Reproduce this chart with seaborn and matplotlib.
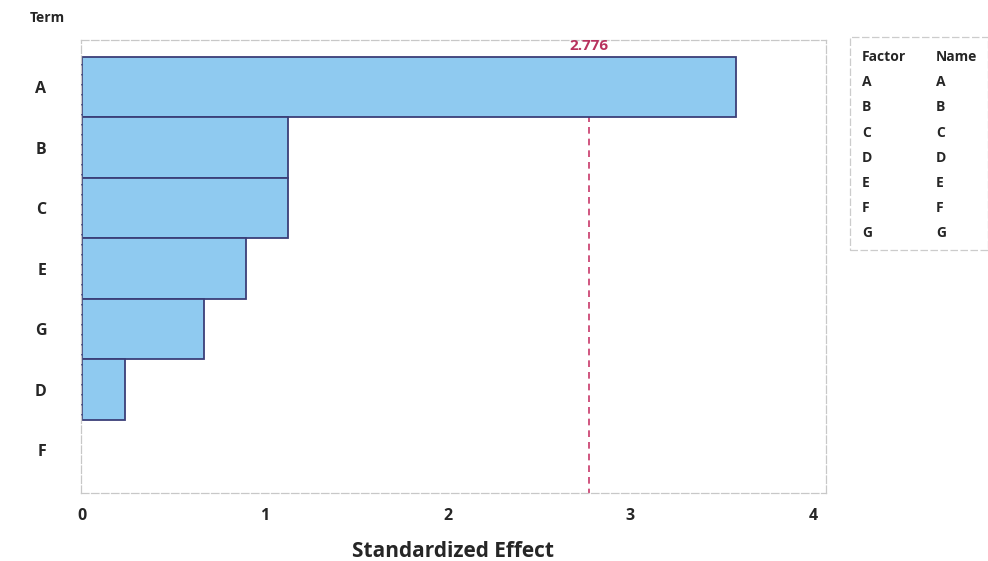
import matplotlib
matplotlib.use("Agg")
import matplotlib.pyplot as plt
import seaborn as sns
import pandas as pd

terms = ["A", "B", "C", "E", "G", "D", "F"]
effects = [3.58, 1.125, 1.125, 0.90, 0.67, 0.235, 0.0]
critical = 2.776
factors = ["A", "B", "C", "D", "E", "F", "G"]
names = ["A", "B", "C", "D", "E", "F", "G"]

sns.set_theme(style="white")
plt.rcParams["font.family"] = ["Open Sans", "DejaVu Sans"]

df = pd.DataFrame({"Term": terms, "Effect": effects})

fig = plt.figure(figsize=(9.88, 5.61), dpi=100)
ax = fig.add_axes([0.082, 0.121, 0.754, 0.808])

ylim = (6.71, -0.78)
ax.vlines(critical, -0.5, ylim[0], color="#c8386a", linestyle=(0, (4, 3)), linewidth=1.2, zorder=0)
sns.barplot(data=df, x="Effect", y="Term", order=terms, orient="h", width=1.0,
            color="#8fcaf0", edgecolor="#3b3f78", linewidth=1.3, saturation=1, ax=ax, zorder=2)
for p in ax.patches:
    if p.get_width() == 0:
        p.set_edgecolor("none")

ax.set_xlim(-0.005, 4.07)
ax.set_ylim(*ylim)
ax.set_xticks([0, 1, 2, 3, 4])
ax.set_xticklabels(["0", "1", "2", "3", "4"], fontweight="bold", fontsize=11.5)
ax.set_yticks(range(len(terms)))
ax.set_yticklabels(terms, fontweight="bold", fontsize=11.5)
ax.tick_params(axis="x", length=3, color="#bbbbbb", pad=8)
ax.tick_params(axis="y", length=3, color="#bbbbbb", pad=22)
ax.set_xlabel("Standardized Effect", fontsize=15, fontweight="bold", labelpad=12)
ax.set_ylabel("")
for s in ax.spines.values():
    s.set_color("#c8c8c8")
    s.set_linestyle((0, (6, 2)))
    s.set_linewidth(0.9)

ax.annotate(f"{critical:.3f}", xy=(critical, -0.5), xytext=(0, 3), textcoords="offset points",
            color="#b8325e", fontsize=11, fontweight="bold", ha="center", va="bottom")

fig.text(30 / 988, 1 - 18 / 561, "Term", fontsize=10, fontweight="bold", ha="left", va="center")

# Legend table
from matplotlib.patches import Rectangle
box = Rectangle((850 / 988, 1 - 250 / 561), 138 / 988, 213 / 561, transform=fig.transFigure,
                facecolor="white", edgecolor="#cccccc", linestyle=(0, (6, 2)), linewidth=0.9)
fig.patches.append(box)
y0 = 57
dy = 25.2
fig.text(862 / 988, 1 - y0 / 561, "Factor", fontsize=10, fontweight="bold", va="center", ha="left")
fig.text(936 / 988, 1 - y0 / 561, "Name", fontsize=10, fontweight="bold", va="center", ha="left")
for i, (f, n) in enumerate(zip(factors, names)):
    yy = 1 - (y0 + dy * (i + 1)) / 561
    fig.text(862 / 988, yy, f, fontsize=10, fontweight="bold", va="center", ha="left")
    fig.text(936 / 988, yy, n, fontsize=10, fontweight="bold", va="center", ha="left")

fig.savefig("out.png", dpi=100)
